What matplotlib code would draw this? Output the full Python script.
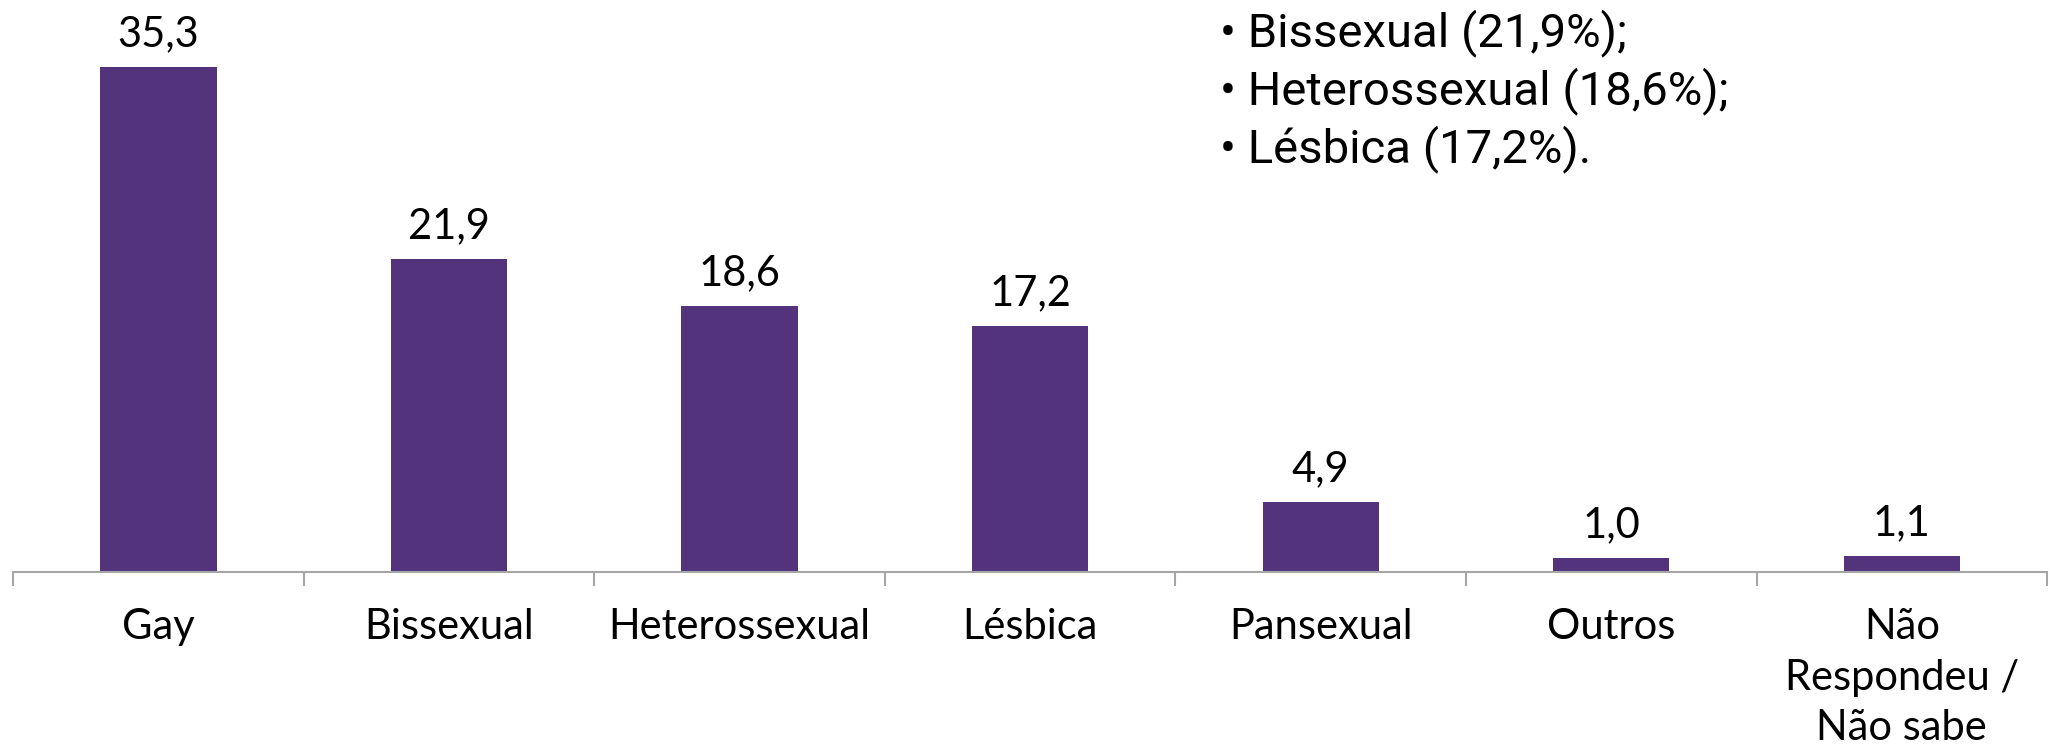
import matplotlib
matplotlib.use("Agg")
import matplotlib.pyplot as plt
import numpy as np

categories = ["Gay", "Bissexual", "Heterossexual", "Lésbica", "Pansexual", "Outros",
              "Não\nRespondeu /\nNão sabe"]
values = [35.3, 21.9, 18.6, 17.2, 4.9, 1.0, 1.1]
value_labels = ["35,3", "21,9", "18,6", "17,2", "4,9", "1,0", "1,1"]
note_lines = ["• Gay (35,3%);", "• Bissexual (21,9%);", "• Heterossexual (18,6%);", "• Lésbica (17,2%)."]

bar_color = "#52337C"
axis_color = "#A6A6A6"

fig = plt.figure(figsize=(20.51, 7.54), dpi=100)
ax = fig.add_axes([0.0064, 0.2413, 0.9917, 0.7587])

x = np.arange(len(categories))
ax.bar(x, values, width=0.4, color=bar_color)
ax.set_xlim(-0.5, len(categories) - 0.5)
ax.set_ylim(0, 40)

for xi, v, lab in zip(x, values, value_labels):
    ax.annotate(lab, (xi, v), xytext=(0, 10), textcoords="offset points",
                ha="center", va="bottom", fontsize=30, family="Lato", color="black")

for s in ["top", "right", "left"]:
    ax.spines[s].set_visible(False)
ax.spines["bottom"].set_color(axis_color)
ax.spines["bottom"].set_linewidth(1.5)
ax.set_yticks([])
ax.set_xticks(x)
ax.set_xticklabels(categories, fontsize=30, family="Lato", linespacing=1.4, va="top")
ax.tick_params(axis="x", which="major", length=0, pad=26)
ax.set_xticks(np.arange(len(categories) + 1) - 0.5, minor=True)
ax.tick_params(axis="x", which="minor", length=10, width=1.5, color=axis_color, direction="out")

y0 = 1 + 19.5 / 576
dy = 44.5 / 576
for i, line in enumerate(note_lines):
    fig.text(933 / 1568, y0 - i * dy, line, ha="left", va="center", fontsize=34,
             family="Roboto", color="black")

fig.savefig("out.png", dpi=100)
